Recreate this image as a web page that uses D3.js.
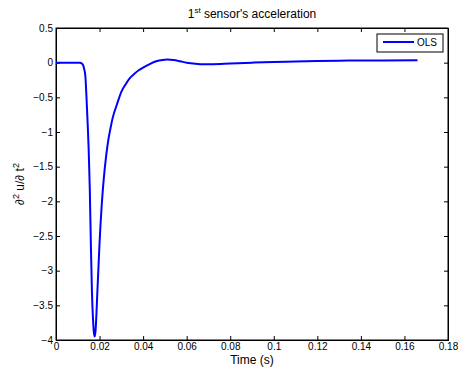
<!DOCTYPE html>
<html>
<head>
<meta charset="utf-8">
<script src="https://cdn.jsdelivr.net/npm/d3@7"></script>
<style>
  html, body { margin: 0; padding: 0; background: #fff; }
  svg { display: block; }
  text { font-family: "Liberation Sans", Arial, Helvetica, sans-serif; fill: #000; }
</style>
</head>
<body>
<svg id="chart" width="458" height="368"></svg>
<script>
// ---- data ----
const timeValues = [0, 0.005, 0.011, 0.0118, 0.0125, 0.013, 0.0135, 0.014, 0.0145, 0.015, 0.0155, 0.016, 0.0165, 0.017, 0.0175, 0.0178, 0.0182, 0.0186, 0.019, 0.0195, 0.020, 0.021, 0.022, 0.023, 0.024, 0.025, 0.026, 0.028, 0.030, 0.032, 0.034, 0.036, 0.038, 0.040, 0.043, 0.046, 0.049, 0.051, 0.054, 0.057, 0.060, 0.064, 0.068, 0.072, 0.080, 0.090, 0.100, 0.110, 0.120, 0.130, 0.140, 0.150, 0.166];
const olsValues = [0, 0, 0, -0.01, -0.04, -0.1, -0.2, -0.5, -0.85, -1.25, -1.8, -2.6, -3.3, -3.7, -3.92, -3.95, -3.85, -3.6, -3.3, -2.95, -2.6, -2.05, -1.65, -1.35, -1.12, -0.95, -0.8, -0.6, -0.42, -0.31, -0.22, -0.16, -0.11, -0.07, -0.02, 0.02, 0.04, 0.045, 0.038, 0.02, 0.0, -0.016, -0.024, -0.022, -0.012, 0.0, 0.01, 0.018, 0.024, 0.028, 0.031, 0.033, 0.035];
const xTicks = [0, 0.02, 0.04, 0.06, 0.08, 0.1, 0.12, 0.14, 0.16, 0.18];
const yTicks = [0.5, 0, -0.5, -1, -1.5, -2, -2.5, -3, -3.5, -4];
const seriesNames = ["OLS"];

// ---- layout ----
const L = 56, R = 448, T = 28, B = 340;
const svg = d3.select("#chart");
const x = d3.scaleLinear().domain([0, 0.18]).range([L, R]);
const y = d3.scaleLinear().domain([-4, 0.5]).range([B, T]);

const fmt = v => (v < 0 ? "\u2212" : "") + String(Math.abs(v));

const tk = 4;
svg.append("g").attr("transform", `translate(0,${B})`)
  .call(d3.axisBottom(x).tickValues(xTicks).tickSize(-tk).tickPadding(3).tickFormat(fmt));
svg.append("g").attr("transform", `translate(0,${T})`)
  .call(d3.axisTop(x).tickValues(xTicks).tickSize(-tk).tickFormat(""));
svg.append("g").attr("transform", `translate(${L},0)`)
  .call(d3.axisLeft(y).tickValues(yTicks).tickSize(-tk).tickPadding(3).tickFormat(fmt));
svg.append("g").attr("transform", `translate(${R},0)`)
  .call(d3.axisRight(y).tickValues(yTicks).tickSize(-tk).tickFormat(""));

svg.selectAll(".domain").attr("stroke", "#000").attr("stroke-width", 1);
svg.selectAll(".tick line").attr("stroke", "#000").attr("stroke-width", 1);
svg.selectAll(".tick text").style("font-size", "10px").attr("fill", "#000")
  .style("font-family", "'Liberation Sans', Arial, sans-serif");

svg.append("rect").attr("x", L).attr("y", T).attr("width", R - L).attr("height", B - T)
  .attr("fill", "none").attr("stroke", "#000").attr("stroke-width", 1);

// line
const data = timeValues.map((t, i) => [t, olsValues[i]]);
const line = d3.line().x(d => x(d[0])).y(d => y(d[1])).curve(d3.curveMonotoneX);
svg.append("path").datum(data).attr("d", line)
  .attr("fill", "none").attr("stroke", "#0000ff").attr("stroke-width", 2)
  .attr("stroke-linejoin", "round");

// title
const title = svg.append("text").attr("x", (L + R) / 2).attr("y", 18)
  .attr("text-anchor", "middle").style("font-size", "12px");
title.append("tspan").text("1");
title.append("tspan").attr("dy", -5).style("font-size", "8px").text("st");
title.append("tspan").attr("dy", 5).text(" sensor's acceleration");

// x label
svg.append("text").attr("x", (L + R) / 2).attr("y", 364)
  .attr("text-anchor", "middle").style("font-size", "12px").text("Time (s)");

// y label
const yl = svg.append("text").attr("transform", `translate(24,${(T + B) / 2}) rotate(-90)`)
  .attr("text-anchor", "middle").style("font-size", "12px");
yl.append("tspan").text("\u2202");
yl.append("tspan").attr("dy", -5).style("font-size", "9px").text("2");
yl.append("tspan").attr("dy", 5).text(" u/\u2202 t");
yl.append("tspan").attr("dy", -5).style("font-size", "9px").text("2");

// legend
const lg = svg.append("g");
lg.append("rect").attr("x", 377).attr("y", 34).attr("width", 66).attr("height", 18)
  .attr("fill", "#fff").attr("stroke", "#000").attr("stroke-width", 1);
lg.append("line").attr("x1", 383).attr("x2", 414).attr("y1", 42).attr("y2", 42)
  .attr("stroke", "#0000ff").attr("stroke-width", 2);
lg.append("text").attr("x", 417).attr("y", 46).style("font-size", "10px").text(seriesNames[0]);
</script>
</body>
</html>
